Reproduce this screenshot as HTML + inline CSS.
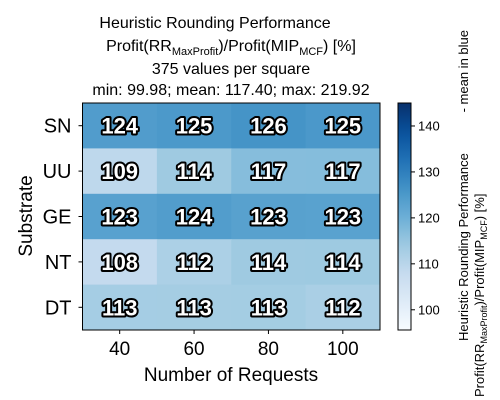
<!DOCTYPE html>
<html><head><meta charset="utf-8"><style>body{margin:0;background:#fff}svg{display:block;font-family:"Liberation Sans","DejaVu Sans",sans-serif}</style></head>
<body>
<svg id="c" width="500" height="400" viewBox="0 0 500 400" xmlns="http://www.w3.org/2000/svg">
<g font-size="16" text-anchor="middle" fill="#000">
<text x="215" y="28">Heuristic Rounding Performance</text>
<text x="231" y="51">Profit(RR<tspan font-size="11" dy="4">MaxProfit</tspan><tspan dy="-4">)/Profit(MIP</tspan><tspan font-size="11" dy="4">MCF</tspan><tspan dy="-4">) [%]</tspan></text>
<text x="231" y="74">375 values per square</text>
<text x="231" y="95">min: 99.98; mean: 117.40; max: 219.92</text>
</g>
<g id="cells"></g>
<rect x="82.5" y="103" width="297.5" height="227" fill="none" stroke="#000" stroke-width="1"/>
<g id="axes"></g>
<text x="231" y="381" font-size="19" text-anchor="middle">Number of Requests</text>
<text transform="translate(32,216) rotate(-90)" font-size="19" text-anchor="middle">Substrate</text>
<defs><linearGradient id="cg" x1="0" y1="1" x2="0" y2="0"></linearGradient></defs>
<rect x="398" y="103" width="13" height="227" fill="url(#cg)" stroke="#000" stroke-width="1"/>
<g id="cbticks"></g>
<text transform="translate(468,341) rotate(-90)" font-size="13" text-anchor="start">Heuristic Rounding Performance</text>
<text transform="translate(468,30) rotate(-90)" font-size="13" text-anchor="end">- mean in blue</text>
<text transform="translate(484,397) rotate(-90)" font-size="13" text-anchor="start">Profit(RR<tspan font-size="9" dy="3">MaxProfit</tspan><tspan dy="-3">)/Profit(MIP</tspan><tspan font-size="9" dy="3">MCF</tspan><tspan dy="-3">)  [%]</tspan></text>
</svg>
<script>
const rows=["SN","UU","GE","NT","DT"];
const cols=["40","60","80","100"];
const v_SN=[124.2,125.0,126.0,125.1];
const v_UU=[109.2,114.0,117.0,117.1];
const v_GE=[123.1,124.0,123.2,123.0];
const v_NT=[108.2,112.0,114.0,114.1];
const v_DT=[113.0,113.1,113.2,112.2];
const cbTicks=[100,110,120,130,140];
const vmin=95.6,vmax=145;
const values=[v_SN,v_UU,v_GE,v_NT,v_DT];
const NS="http://www.w3.org/2000/svg";
const L=82.5,T=103,W=297.5,H=227;
const stops=["#f7fbff","#deebf7","#c6dbef","#9ecae1","#6baed6","#4292c6","#2171b5","#08519c","#08306b"];
function hex(h){return [1,3,5].map(i=>parseInt(h.substr(i,2),16));}
function cmap(v){let t=Math.max(0,Math.min(1,(v-vmin)/(vmax-vmin)))*8;let i=Math.min(7,Math.floor(t)),f=t-i;const a=hex(stops[i]),b=hex(stops[i+1]);return "rgb("+a.map((x,k)=>Math.round(x+(b[k]-x)*f)).join(",")+")";}
const xs=i=>L+i*W/cols.length, ys=j=>T+j*H/rows.length;
const cbY=v=>T+H-(v-vmin)/(vmax-vmin)*H;
function mk(t,a,p){const e=document.createElementNS(NS,t);for(const k in a)e.setAttribute(k,a[k]);(p||document.getElementById('c')).appendChild(e);return e;}
const cg=document.getElementById('cells'),ax=document.getElementById('axes'),cb=document.getElementById('cbticks');
values.forEach((row,j)=>row.forEach((v,i)=>{
 const r=mk('rect',{x:xs(i),y:ys(j),width:W/cols.length+0.5,height:H/rows.length+0.5,fill:cmap(v)},cg);
 
 
 const t=mk('text',{x:xs(i)+W/cols.length/2,y:ys(j)+H/rows.length/2+8,'text-anchor':'middle','font-size':'22','font-weight':'bold',fill:'#fff',stroke:'#000','stroke-width':'4','paint-order':'stroke','stroke-linejoin':'round'},cg);
 t.textContent=v.toFixed(0);
 
 
}));
rows.forEach((r,j)=>{const y=ys(j)+H/rows.length/2;
 mk('line',{x1:L-4,x2:L,y1:y,y2:y,stroke:'#000'},ax);
 const t=mk('text',{x:L-11,y:y+7,'text-anchor':'end','font-size':'20'},ax);t.textContent=r;
 
 });
cols.forEach((c,i)=>{const x=xs(i)+W/cols.length/2;
 mk('line',{x1:x,x2:x,y1:T+H,y2:T+H+4,stroke:'#000'},ax);
 const t=mk('text',{x:x,y:T+H+25,'text-anchor':'middle','font-size':'19'},ax);t.textContent=c;
 
 });
const g=document.getElementById('cg');
for(let k=0;k<=20;k++){const v=vmin+(vmax-vmin)*k/20;mk('stop',{offset:(k/20),'stop-color':cmap(v)},g);}
cbTicks.forEach(v=>{const y=cbY(v);
 mk('line',{x1:411,x2:415,y1:y,y2:y,stroke:'#000'},cb);
 const t=mk('text',{x:418,y:y+4.5,'font-size':'13'},cb);t.textContent=v;
 
 });
</script>
</body></html>
